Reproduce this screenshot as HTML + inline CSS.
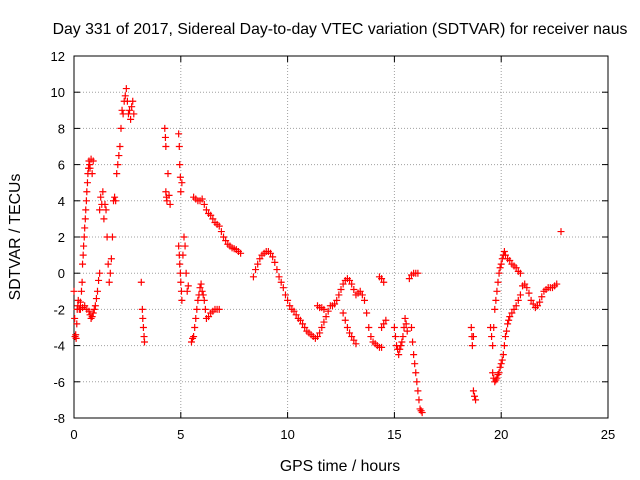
<!DOCTYPE html>
<html><head><meta charset="utf-8"><style>
body{margin:0;background:#fff;}
svg{display:block;font-family:"Liberation Sans",sans-serif;}
</style></head><body>
<svg id="chart" width="640" height="480" viewBox="0 0 640 480">
<rect width="640" height="480" fill="#fff"/>
<text x="340" y="34" text-anchor="middle" font-size="15.8">Day 331 of 2017, Sidereal Day-to-day VTEC variation (SDTVAR) for receiver naus</text>
<g id="grid"></g>
<g id="ticks"></g>
<rect x="74" y="56" width="534" height="362" fill="none" stroke="#000" stroke-width="1"/>
<g id="marks"></g>
<text x="340" y="471" text-anchor="middle" font-size="15.8">GPS time / hours</text>
<text transform="translate(20,237) rotate(-90)" text-anchor="middle" font-size="15.8">SDTVAR / TECUs</text>
</svg>
<script>
const xTicks=[0,5,10,15,20,25];
const yTicks=[-8,-6,-4,-2,0,2,4,6,8,10,12];
const times=[0,0.03,0.05,0.08,0.1,0.13,0.15,0.18,0.2,0.25,0.3,0.35,0.38,0.4,0.43,0.45,0.48,0.5,0.53,0.55,0.58,0.6,0.63,0.65,0.68,0.7,0.73,0.75,0.8,0.85,0.9,
0.3,0.4,0.5,0.6,0.7,0.75,0.8,0.85,0.9,0.95,1.0,1.05,1.1,1.15,1.2,
1.2,1.25,1.3,1.35,1.4,1.45,1.5,1.55,1.6,1.65,1.7,1.75,1.8,1.85,1.9,1.95,2.0,2.05,2.1,2.15,2.2,2.25,2.3,2.35,2.4,2.45,2.5,2.55,2.6,2.65,2.7,2.75,2.8,
3.15,3.2,3.22,3.25,3.28,3.3,
4.25,4.28,4.3,4.3,4.33,4.35,4.4,4.45,4.5,4.9,4.93,4.95,4.98,5.0,5.05,4.9,4.93,4.95,4.98,5.0,5.03,5.05,5.1,5.15,5.2,5.25,5.3,5.35,
5.5,5.55,5.6,5.65,5.7,5.75,5.8,5.85,5.9,5.95,6.0,6.05,6.1,6.15,6.2,6.3,6.4,6.5,6.6,6.7,6.8,
5.6,5.7,5.8,5.9,6.0,6.1,6.2,6.3,6.4,6.5,6.6,6.7,6.8,6.9,7.0,7.1,7.2,7.3,7.4,7.5,7.6,7.7,7.8,
8.4,8.5,8.6,8.7,8.8,8.9,9.0,9.1,9.2,9.3,9.4,9.5,9.6,9.7,9.8,9.9,10.0,10.1,10.2,10.3,10.4,10.5,10.6,10.7,10.8,10.9,11.0,11.1,11.2,11.3,11.4,11.5,11.6,11.7,11.8,11.9,12.0,12.1,12.2,12.3,12.4,12.5,12.6,12.7,12.8,12.9,13.0,13.1,13.2,13.3,13.4,13.5,13.6,13.7,13.8,13.9,14.0,14.1,14.2,14.3,14.4,
11.4,11.5,11.6,11.7,12.6,12.7,12.8,12.9,13.0,13.1,13.2,14.3,14.4,14.5,14.4,14.5,14.6,15.0,15.05,15.1,15.15,15.2,15.25,15.3,15.35,15.4,15.45,15.5,15.55,15.6,15.7,15.8,15.9,16.0,16.1,15.8,15.85,15.9,15.95,16.0,16.05,16.1,16.15,16.2,16.25,16.3,
18.6,18.63,18.65,18.7,18.7,18.75,18.8,19.5,19.55,19.6,19.65,19.7,19.75,19.8,19.85,19.9,19.95,20.0,19.6,19.65,19.7,19.75,19.8,19.85,19.9,19.95,20.0,20.05,20.1,20.15,20.2,20.25,20.3,20.35,20.4,20.5,20.6,20.7,20.8,20.9,21.0,21.1,21.2,21.3,21.4,21.5,21.6,21.7,21.8,21.9,22.0,22.1,22.2,22.3,22.4,22.5,22.6,22.8,20.05,20.1,20.15,20.2,20.3,20.4,20.5,20.6,20.7,20.8,20.9];
const values=[-1,-2.5,-3.5,-3.4,-3.6,-2.8,-2,-1.8,-1.5,-2,-1.6,-1,-0.5,0.5,1,1.5,2,2.5,3,3.5,4,4.5,5,5.5,5.8,6.2,6,5.8,6.3,5.5,6.2,
-2,-1.9,-1.8,-2,-2.1,-2.3,-2.5,-2.4,-2.2,-2,-1.8,-1.4,-1,-0.4,0,
3.5,4.2,3.8,4.5,3,3.8,3.5,2,0.5,-0.5,0,0.8,2,4,4.2,4,5.5,6,6.5,7,8,9,8.8,9.5,9.8,10.2,9.5,8.8,9,8.5,9.2,9.5,8.8,
-0.5,-2,-2.5,-3,-3.5,-3.8,
8,7.5,7,4.5,4.2,4,5.5,4.3,3.8,7.7,7,6,5.3,4.5,5,1.5,1,0.5,0,-0.5,-1,-1.5,1,2,1.5,0,-1,-0.7,
-3.8,-3.6,-3.5,-3,-2.5,-2,-1.5,-1.2,-0.8,-0.6,-1,-1.2,-1.5,-2,-2.5,-2.4,-2.2,-2.1,-2,-2,-2,
4.2,4.1,4,4,4.1,3.8,3.5,3.3,3.2,3,2.8,2.7,2.6,2.3,2,1.8,1.6,1.5,1.4,1.35,1.3,1.2,1.1,
-0.2,0.2,0.5,0.8,1,1.1,1.2,1.2,1.1,0.9,0.6,0.2,-0.2,-0.5,-0.8,-1.2,-1.5,-1.8,-2,-2.1,-2.3,-2.5,-2.6,-2.8,-3,-3.2,-3.3,-3.4,-3.5,-3.6,-3.5,-3.3,-3,-2.7,-2.4,-2.1,-1.8,-1.8,-1.7,-1.5,-1.2,-0.9,-0.6,-0.4,-0.3,-0.4,-0.6,-0.9,-1.2,-1.1,-1,-1.2,-1.5,-2.2,-3,-3.5,-3.8,-3.9,-4,-4.1,-4.1,
-1.8,-1.9,-1.9,-2,-2.2,-2.6,-3,-3.3,-3.5,-3.7,-3.9,-0.2,-0.3,-0.5,-3,-2.8,-2.6,-3,-3.5,-4,-4.2,-4.5,-4.2,-4,-3.8,-3.5,-3,-2.5,-2.8,-3.2,-0.3,-0.1,0,0,0,-3,-3.8,-4.5,-5,-5.5,-6,-6.5,-7,-7.5,-7.6,-7.7,
-3,-3.5,-4,-3.5,-6.5,-6.8,-7,-3,-3.5,-4,-3,-2,-1.5,-1,-0.5,0,0.3,0.5,-5.5,-5.8,-6,-5.9,-5.8,-5.6,-5.5,-5.2,-5,-4.8,-4.5,-4,-3.5,-3.2,-2.8,-2.6,-2.4,-2.2,-2,-1.8,-1.5,-1.2,-0.7,-0.6,-0.8,-1.1,-1.5,-1.7,-1.9,-1.8,-1.6,-1.3,-1,-0.9,-0.8,-0.8,-0.8,-0.7,-0.6,2.3,0.8,1,1.2,1,0.8,0.7,0.5,0.4,0.3,0.1,0];
const NS='http://www.w3.org/2000/svg';
const X0=74,X1=608,Y0=418,Y1=56;
function xs(t){return X0+(t-0)/(25-0)*(X1-X0);}
function ys(v){return Y0-(v-(-8))/(12-(-8))*(Y0-Y1);}
const grid=document.getElementById('grid'),ticks=document.getElementById('ticks'),marks=document.getElementById('marks');
function mk(tag,attrs,parent){const e=document.createElementNS(NS,tag);for(const k in attrs)e.setAttribute(k,attrs[k]);parent.appendChild(e);return e;}
xTicks.forEach(t=>{
  const x=xs(t);
  if(t>0&&t<25){const g=mk('line',{x1:x,x2:x,y1:Y1,y2:Y0,stroke:'#a0a0a0','stroke-dasharray':'1,2'},grid);
  
  }
  mk('line',{x1:x,x2:x,y1:Y0,y2:Y0-6,stroke:'#000'},ticks);
  mk('line',{x1:x,x2:x,y1:Y1,y2:Y1+6,stroke:'#000'},ticks);
  const l=mk('text',{x:x,y:Y0+21,'text-anchor':'middle','font-size':'13'},ticks);
  l.textContent=t;
  
  
});
yTicks.forEach(v=>{
  const y=ys(v);
  if(v>-8&&v<12){const g=mk('line',{x1:X0,x2:X1,y1:y,y2:y,stroke:'#a0a0a0','stroke-dasharray':'1,2'},grid);
  
  }
  mk('line',{x1:X0,x2:X0+6,y1:y,y2:y,stroke:'#000'},ticks);
  mk('line',{x1:X1,x2:X1-6,y1:y,y2:y,stroke:'#000'},ticks);
  const l=mk('text',{x:X0-9,y:y+5,'text-anchor':'end','font-size':'13'},ticks);
  l.textContent=v;
  
  
});
times.forEach((t,i)=>{
  const x=xs(t),y=ys(values[i]);
  const p=mk('path',{d:`M${x-3.5},${y}H${x+3.5}M${x},${y-3.5}V${y+3.5}`,stroke:'#f00','stroke-width':'1.2',fill:'none'},marks);
  
  
});
</script>
</body></html>
